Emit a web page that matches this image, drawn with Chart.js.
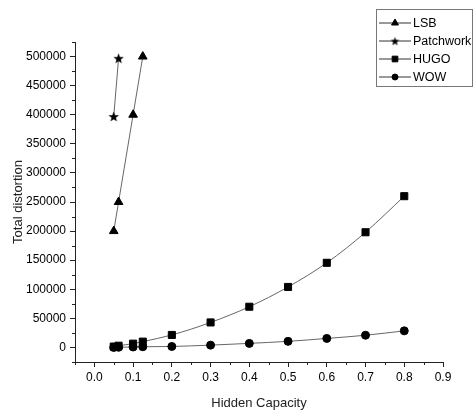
<!DOCTYPE html>
<html>
<head>
<meta charset="utf-8">
<title>Total distortion vs hidden capacity</title>
<script src="https://cdn.jsdelivr.net/npm/chart.js@4.4.1/dist/chart.umd.min.js"></script>
<style>
    html, body { margin: 0; padding: 0; background: #fff; }
    #wrap { width: 474px; height: 411px; }
</style>
</head>
<body>
<div id="wrap"><canvas id="distortionChart" width="474" height="411"></canvas></div>
<script>
// capacities used by the methods
const capacityLsb = [0.05, 0.0625, 0.1, 0.125];
const capacityPatchwork = [0.05, 0.0625];
const capacityAdaptive = [0.05, 0.0625, 0.1, 0.125, 0.2, 0.3, 0.4, 0.5, 0.6, 0.7, 0.8];

// total distortion per method
const lsbValues = [200000, 250000, 400000, 500000];
const patchworkValues = [397000, 497000];
const hugoValues = [1500, 3000, 6500, 10000, 21500, 43000, 70000, 104000, 145500, 198000, 260000];
const wowValues = [0, 300, 800, 1200, 1700, 4000, 7000, 10500, 15500, 21000, 28500];

// axis ticks
const xTicks = [0.0, 0.1, 0.2, 0.3, 0.4, 0.5, 0.6, 0.7, 0.8, 0.9];
const xMinorTicks = [-0.05, 0.05, 0.15, 0.25, 0.35, 0.45, 0.55, 0.65, 0.75, 0.85];
const yTicks = [0, 50000, 100000, 150000, 200000, 250000, 300000, 350000, 400000, 450000, 500000];
const yMinorTicks = [-25000, 25000, 75000, 125000, 175000, 225000, 275000, 325000, 375000, 425000, 475000, 525000];

const FONT = "'Liberation Sans', Arial, sans-serif";

function toPoints(xs, ys) {
    return xs.map((x, i) => ({ x: x, y: ys[i] }));
}

// filled five point star, Chart.js only has an outline one
function makeStar(outer, inner) {
    const size = Math.ceil(outer * 2) + 2;
    const c = document.createElement('canvas');
    c.width = size;
    c.height = size;
    const ctx = c.getContext('2d');
    ctx.translate(size / 2, size / 2 + 0.5);
    ctx.beginPath();
    for (let i = 0; i < 10; i++) {
        const r = i % 2 === 0 ? outer : inner;
        const a = -Math.PI / 2 + i * Math.PI / 5;
        ctx.lineTo(Math.cos(a) * r, Math.sin(a) * r);
    }
    ctx.closePath();
    ctx.fillStyle = '#000';
    ctx.fill();
    return c;
}
const starImg = makeStar(5.5, 2.3);
const smallStarImg = makeStar(4.5, 1.9);

function series(label, data, style, radius) {
    return {
        label: label,
        data: data,
        borderColor: '#666',
        borderWidth: 1,
        pointStyle: style,
        pointRadius: radius,
        pointBackgroundColor: '#000',
        pointBorderColor: '#000',
        pointBorderWidth: 1,
        cubicInterpolationMode: 'monotone',
        fill: false
    };
}

// minor tick marks on both axes
const minorTicks = {
    id: 'minorTicks',
    afterDraw(chart) {
        const ctx = chart.ctx;
        const xs = chart.scales.x, ys = chart.scales.y;
        const area = chart.chartArea;
        ctx.save();
        ctx.strokeStyle = '#222';
        ctx.lineWidth = 1;
        ctx.beginPath();
        xMinorTicks.forEach(v => {
            const px = Math.round(xs.getPixelForValue(v)) + 0.5;
            ctx.moveTo(px, area.bottom);
            ctx.lineTo(px, area.bottom + 3);
        });
        yMinorTicks.forEach(v => {
            const py = Math.round(ys.getPixelForValue(v)) + 0.5;
            ctx.moveTo(area.left, py);
            ctx.lineTo(area.left - 3, py);
        });
        ctx.stroke();
        ctx.restore();
    }
};

// boxed legend with a line segment and the marker
const boxLegend = {
    id: 'boxLegend',
    afterDraw(chart) {
        const ctx = chart.ctx;
        const left = 376.5, top = 9.5, width = 96, height = 77;
        ctx.save();
        ctx.fillStyle = '#fff';
        ctx.fillRect(left, top, width, height);
        ctx.strokeStyle = '#777';
        ctx.lineWidth = 1;
        ctx.strokeRect(left, top, width, height);
        ctx.font = '12.5px ' + FONT;
        ctx.textBaseline = 'middle';
        chart.data.datasets.forEach((ds, i) => {
            const y = 22.5 + i * 18;
            ctx.strokeStyle = '#333';
            ctx.beginPath();
            ctx.moveTo(379, y + 0.5);
            ctx.lineTo(411, y + 0.5);
            ctx.stroke();
            ctx.fillStyle = '#000';
            ctx.strokeStyle = '#000';
            Chart.helpers.drawPoint(ctx, {
                pointStyle: ds.pointStyle === starImg ? smallStarImg : ds.pointStyle,
                radius: ds.pointStyle === 'circle' ? 3 : 4,
                rotation: 0,
                borderWidth: 1
            }, 395, y + 0.5);
            ctx.fillStyle = '#000';
            ctx.fillText(ds.label, 413, y + 1);
        });
        ctx.restore();
    }
};

const ctx = document.getElementById('distortionChart').getContext('2d');
const chart = new Chart(ctx, {
    type: 'line',
    data: {
        datasets: [
            series('LSB', toPoints(capacityLsb, lsbValues), 'triangle', 5),
            series('Patchwork', toPoints(capacityPatchwork, patchworkValues), starImg, 5),
            series('HUGO', toPoints(capacityAdaptive, hugoValues), 'rect', 5),
            series('WOW', toPoints(capacityAdaptive, wowValues), 'circle', 4)
        ]
    },
    options: {
        responsive: false,
        animation: false,
        layout: { padding: { left: 0, top: 42, right: 31, bottom: 0 } },
        plugins: {
            legend: { display: false },
            tooltip: { enabled: false }
        },
        scales: {
            x: {
                type: 'linear',
                min: -0.05,
                max: 0.9,
                afterBuildTicks: scale => { scale.ticks = xTicks.map(v => ({ value: v })); },
                afterFit: scale => { scale.height = 49; },
                border: { display: true, color: '#222', width: 1 },
                grid: { drawOnChartArea: false, drawTicks: true, tickLength: 5, color: '#222' },
                ticks: {
                    padding: 3,
                    color: '#000',
                    font: { family: FONT, size: 12 },
                    maxRotation: 0,
                    callback: v => v.toFixed(1)
                },
                title: {
                    display: true,
                    text: 'Hidden Capacity',
                    color: '#222',
                    font: { family: FONT, size: 13 },
                    padding: { top: 2, bottom: 0 }
                }
            },
            y: {
                type: 'linear',
                min: -25000,
                max: 525000,
                afterBuildTicks: scale => { scale.ticks = yTicks.map(v => ({ value: v })); },
                afterFit: scale => { scale.width = 75; },
                border: { display: true, color: '#222', width: 1 },
                grid: { drawOnChartArea: false, drawTicks: true, tickLength: 5, color: '#222' },
                ticks: {
                    padding: 4,
                    color: '#000',
                    font: { family: FONT, size: 12 },
                    callback: v => String(v)
                },
                title: {
                    display: true,
                    text: 'Total distortion',
                    color: '#222',
                    font: { family: FONT, size: 13 },
                    padding: { top: 11, bottom: 0 }
                }
            }
        }
    },
    plugins: [minorTicks, boxLegend]
});
</script>
</body>
</html>
